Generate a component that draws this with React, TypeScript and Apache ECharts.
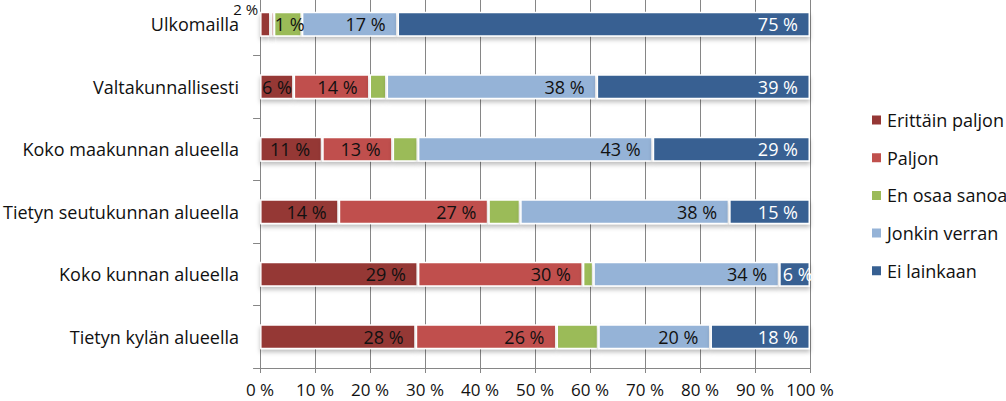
import React, { useEffect, useRef } from "react";
import * as echarts from "echarts";

const categories = [
  "Ulkomailla",
  "Valtakunnallisesti",
  "Koko maakunnan alueella",
  "Tietyn seutukunnan alueella",
  "Koko kunnan alueella",
  "Tietyn kylän alueella",
];
const seriesNames = ["Erittäin paljon", "Paljon", "En osaa sanoa", "Jonkin verran", "Ei lainkaan"];
const erittainPaljon = [1.9, 6.1, 11.3, 14.3, 28.7, 28.3];
const paljon = [0.6, 13.8, 12.8, 27.2, 30.0, 25.6];
const enOsaaSanoa = [5.1, 3.1, 4.6, 5.8, 1.9, 7.6];
const jonkinVerran = [17.4, 38.2, 42.7, 38.0, 33.8, 20.4];
const eiLainkaan = [75.0, 38.8, 28.6, 14.7, 5.6, 18.1];
const xTicks = [0, 10, 20, 30, 40, 50, 60, 70, 80, 90, 100];

const colors = ["#953735", "#c0504d", "#9bbb59", "#95b3d7", "#376092"];
const FONT = "Open Sans";
const FS = 18;

export default function App() {
  const ref = useRef<HTMLDivElement>(null);
  useEffect(() => {
    document.body.style.margin = "0";
    document.body.style.overflow = "hidden";
    if (!ref.current) return;
    const chart = echarts.init(ref.current, null, { renderer: "svg" });
    const fmt = (p: any) => `${Math.round(p.value)} %`;
    const baseLabel = (color: string, show: boolean) => ({
      show,
      position: "insideRight",
      distance: 12,
      color,
      fontFamily: FONT,
      fontSize: FS,
      lineHeight: 18,
      formatter: fmt,
    });
    const mk = (arr: number[], overrides: Record<number, any>) =>
      arr.map((v, i) => (overrides[i] ? { value: v, label: overrides[i] } : v));

    const dataSets = [
      mk(erittainPaljon, {
        0: { position: "left", distance: 2, offset: [0, -15], fontSize: 15, lineHeight: 13 },
        1: { position: "inside" },
      }),
      mk(paljon, { 0: { position: "right", distance: 1 } }),
      enOsaaSanoa,
      jonkinVerran,
      mk(eiLainkaan, { 4: { position: "inside", offset: [3, 0] } }),
    ];

    const series = seriesNames.map((name, i) => ({
      name,
      type: "bar",
      stack: "total",
      barWidth: 25,
      data: dataSets[i],
      itemStyle: {
        color: colors[i],
        borderColor: "#ffffff",
        borderWidth: 1.5,
        shadowColor: "rgba(0,0,0,0.25)",
        shadowBlur: 4,
        shadowOffsetY: 3,
      },
      label: baseLabel(i === 4 ? "#ffffff" : "#111111", i !== 2),
    }));

    chart.setOption({
      animation: false,
      grid: { left: 260, right: 196, top: 0, bottom: 33, containLabel: false },
      legend: {
        orient: "vertical",
        left: 865,
        top: 113,
        itemWidth: 11,
        itemHeight: 11,
        itemGap: 19.7,
        icon: "rect",
        textStyle: { fontFamily: FONT, fontSize: FS, color: "#111", lineHeight: 18 },
        data: seriesNames,
      },
      xAxis: {
        type: "value",
        min: xTicks[0],
        max: xTicks[xTicks.length - 1],
        interval: 10,
        axisLine: { show: true, lineStyle: { color: "#868686" } },
        axisTick: { show: true, length: 5, lineStyle: { color: "#868686" } },
        splitLine: { show: true, lineStyle: { color: "#868686" } },
        axisLabel: {
          formatter: "{value} %",
          fontFamily: FONT,
          fontSize: 17,
          lineHeight: 16,
          color: "#111",
          margin: 13,
        },
      },
      yAxis: {
        type: "category",
        inverse: true,
        data: categories,
        axisLine: { show: true, lineStyle: { color: "#868686" } },
        axisTick: { show: true, length: 7, lineStyle: { color: "#868686" } },
        axisLabel: { fontFamily: FONT, fontSize: FS, lineHeight: 16, color: "#111", margin: 21 },
      },
      series,
    });
    return () => chart.dispose();
  }, []);
  return <div ref={ref} style={{ width: 1006, height: 408, marginTop: -7 }} />;
}
